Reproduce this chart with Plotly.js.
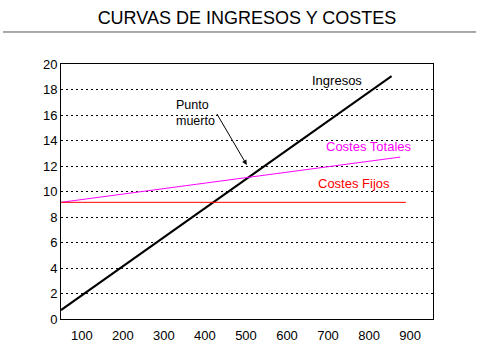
<!DOCTYPE html>
<html><head><meta charset="utf-8">
<script src="https://cdn.plot.ly/plotly-3.0.1.min.js"></script>
<style>html,body{margin:0;padding:0;background:#fff}#c{width:480px;height:360px}</style>
</head><body><div id="c"></div>
<script>
// Data
const ingresosX = [49, 855];
const ingresosY = [0.7, 19.05];
const costesFijosX = [49, 890];
const costesFijosY = [9.15, 9.15];
const costesTotalesX = [49, 876];
const costesTotalesY = [9.15, 12.7];
const xTicks = [100, 200, 300, 400, 500, 600, 700, 800, 900];
const yTicks = [0, 2, 4, 6, 8, 10, 12, 14, 16, 18, 20];
const puntoMuerto = [502, 12.08];

const font = 'Liberation Sans, Arial, sans-serif';
const traces = [
  {x: ingresosX, y: ingresosY, mode: 'lines', line: {color: '#000', width: 2}, name: 'Ingresos'},
  {x: costesTotalesX, y: costesTotalesY, mode: 'lines', line: {color: '#ff00ff', width: 1}, name: 'Costes Totales'},
  {x: costesFijosX, y: costesFijosY, mode: 'lines', line: {color: '#ff0000', width: 1}, name: 'Costes Fijos'}
];
const layout = {
  width: 480, height: 360,
  margin: {l: 61, r: 47, t: 64, b: 41},
  paper_bgcolor: '#fff', plot_bgcolor: '#fff',
  showlegend: false,
  font: {family: font, color: '#000', size: 13},
  title: {text: 'CURVAS DE INGRESOS Y COSTES', font: {family: font, size: 18, color: '#000'},
          x: 0.5, xref: 'paper', y: 1 - 18/360, yanchor: 'middle'},
  xaxis: {range: [49, 956], tickvals: xTicks, ticktext: xTicks.map(String), showgrid: false, zeroline: false,
          showline: true, mirror: true, linecolor: '#000', linewidth: 1, ticks: '', ticklen: 0,
          ticklabelstandoff: 4,
          tickfont: {family: font, size: 13, color: '#000'}},
  yaxis: {range: [0, 20], tickvals: yTicks, showgrid: true, gridcolor: '#000', griddash: '2px,3px', gridwidth: 1,
          zeroline: false, showline: true, mirror: true, linecolor: '#000', linewidth: 1, ticks: '',
          tickfont: {family: font, size: 13, color: '#000'}},
  shapes: [{type: 'line', xref: 'paper', yref: 'paper', x0: -0.156, x1: 1.116, y0: 1.1255, y1: 1.1255,
            line: {color: '#555', width: 1}}],
  annotations: [
    {x: 722, y: 18.67, text: 'Ingresos', showarrow: false, font: {family: font, size: 13, color: '#000'}},
    {x: 801, y: 13.5, text: 'Costes Totales', showarrow: false, font: {family: font, size: 13, color: '#ff00ff'}},
    {x: 763, y: 10.6, text: 'Costes Fijos', showarrow: false, font: {family: font, size: 13, color: '#ff0000'}},
    {x: 324, y: 16.15, text: 'Punto<br>muerto', showarrow: false, xanchor: 'left', align: 'left',
     font: {family: font, size: 12.5, color: '#000'}},
    {x: puntoMuerto[0], y: puntoMuerto[1], ax: 427, ay: 16.2, axref: 'x', ayref: 'y', text: '',
     showarrow: true, arrowhead: 2, arrowsize: 1, arrowwidth: 1, arrowcolor: '#000'}
  ]
};
Plotly.newPlot('c', traces, layout, {staticPlot: true});
</script>
</body></html>
